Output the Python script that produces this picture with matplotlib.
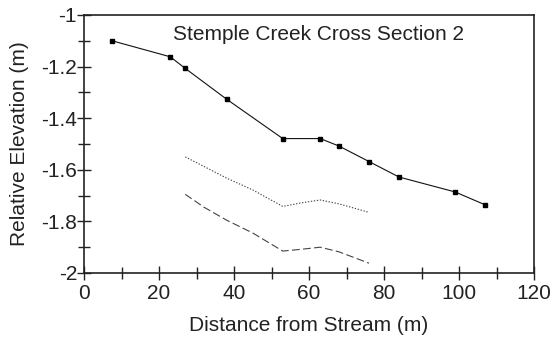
import matplotlib
matplotlib.use("Agg")
import matplotlib.pyplot as plt
from matplotlib.ticker import MultipleLocator

plt.rcParams['font.family'] = ['Liberation Sans', 'DejaVu Sans']

# Data
surf_x = [7.5, 23, 27, 38, 53, 63, 68, 76, 84, 99, 107]
surf_y = [-1.10, -1.162, -1.207, -1.326, -1.479, -1.479, -1.508, -1.568, -1.628, -1.686, -1.736]

dot_x = [27, 32, 38, 45, 53, 58, 63, 68, 76]
dot_y = [-1.55, -1.587, -1.632, -1.678, -1.742, -1.728, -1.717, -1.732, -1.765]

dash_x = [27, 32, 38, 45, 53, 58, 63, 68, 76]
dash_y = [-1.695, -1.745, -1.795, -1.845, -1.915, -1.908, -1.900, -1.918, -1.962]

title = "Stemple Creek Cross Section 2"
xlabel = "Distance from Stream (m)"
ylabel = "Relative Elevation (m)"

txt = '#222222'
fig = plt.figure(figsize=(5.52, 3.38), dpi=100)
ax = fig.add_axes([84/552, 1 - 273/338, (534-84)/552, (273-15)/338])

ax.plot(surf_x, surf_y, color='#111111', lw=0.8, marker='s', ms=3.0,
        markerfacecolor='black', markeredgecolor='black')
ax.plot(dot_x, dot_y, color='#444444', lw=0.8, linestyle=(0, (1.2, 1.5)))
ax.plot(dash_x, dash_y, color='#444444', lw=0.8, linestyle=(0, (7, 3)))

ax.set_xlim(0, 120)
ax.set_ylim(-2, -1)
ax.xaxis.set_major_locator(MultipleLocator(20))
ax.xaxis.set_minor_locator(MultipleLocator(10))
ax.yaxis.set_minor_locator(MultipleLocator(0.1))
ax.set_yticks([-2, -1.8, -1.6, -1.4, -1.2, -1])
ax.set_yticklabels(['-2', '-1.8', '-1.6', '-1.4', '-1.2', '-1'])

ax.tick_params(which='both', direction='inout', top=False, right=False,
               labelsize=15, width=1, color=txt, labelcolor=txt)
ax.tick_params(which='major', length=10, pad=0)
ax.tick_params(axis='x', which='major', pad=3)
ax.tick_params(which='minor', length=9)
for s in ax.spines.values():
    s.set_linewidth(1.2)
    s.set_color(txt)

ax.set_xlabel(xlabel, fontsize=15, labelpad=9, color=txt)
ax.set_ylabel(ylabel, fontsize=15, labelpad=9, color=txt)
ax.text(0.521, 0.926, title, transform=ax.transAxes, ha='center', va='center',
        fontsize=15, color=txt)

fig.savefig("out.png", dpi=100)
